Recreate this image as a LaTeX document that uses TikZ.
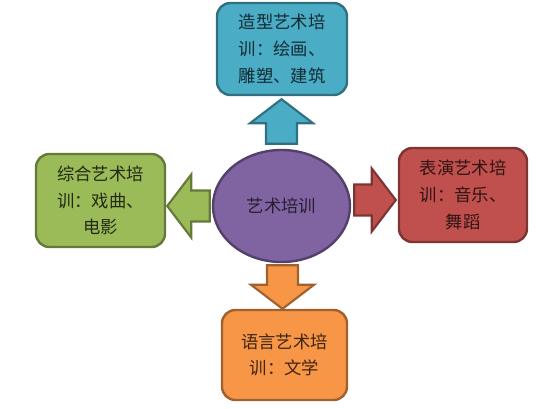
\documentclass[tikz,border=0pt]{standalone}
\usepackage{fontspec}
\setmainfont{Noto Sans CJK SC}
\usepackage{tikz}
\usetikzlibrary{positioning,calc,shapes.geometric}

\definecolor{artblue}{HTML}{4BACC6}
\definecolor{artgreen}{HTML}{9BBB59}
\definecolor{artred}{HTML}{C0504D}
\definecolor{artorange}{HTML}{F79646}
\definecolor{artpurple}{HTML}{8064A2}

\tikzset{
  branch/.style={rounded corners=10pt, line width=1.8pt, align=center,
    font=\fontsize{13}{20}\selectfont, inner sep=0pt},
  bluebox/.style={branch, fill=artblue, draw=artblue!65!black, text=artblue!25!black},
  greenbox/.style={branch, fill=artgreen, draw=artgreen!65!black, text=artgreen!22!black},
  redbox/.style={branch, fill=artred, draw=artred!65!black, text=artred!25!black},
  orangebox/.style={branch, fill=artorange, draw=artorange!65!black, text=artorange!25!black},
  bigarrow/.style={line width=1.6pt, line join=miter},
}

\newcommand{\blockarrow}[3]{%
\coordinate (at) at (#2);
\coordinate (ap) at (#3);
\coordinate (ah) at ($(ap)!18pt!(at)$);
\draw[bigarrow,#1] ($(at)!11.6pt!90:(ap)$) -- ($(ah)!11.6pt!90:(ap)$)
  -- ($(ah)!23.6pt!90:(ap)$) -- (ap) -- ($(ah)!23.6pt!-90:(ap)$)
  -- ($(ah)!11.6pt!-90:(ap)$) -- ($(at)!11.6pt!-90:(ap)$) -- cycle;}

\begin{document}
\begin{tikzpicture}[x=.75pt, y=-.75pt]
\useasboundingbox (0,0) rectangle (541,408);

\node[ellipse, fill=artpurple, draw=artpurple!65!black, line width=1.8pt,
  minimum width=102.75pt, minimum height=84pt, inner sep=0pt,
  text=artpurple!30!black, font=\fontsize{13}{20}\selectfont] (hub) at (281.5,206) {艺术培训};

\node[bluebox, minimum width=97.5pt, minimum height=69pt] (build) at (282,49)
  {造型艺术培\\训：绘画、\\雕塑、建筑};
\node[greenbox, minimum width=96.75pt, minimum height=69.75pt] (drama) at (100.5,200.5)
  {综合艺术培\\训：戏曲、\\电影};
\node[redbox, minimum width=96pt, minimum height=70.5pt] (perform) at (463,195)
  {表演艺术培\\训：音乐、\\舞蹈};
\node[orangebox, minimum width=93.75pt, minimum height=67.5pt] (lang) at (284.5,355)
  {语言艺术培\\训：文学};

\blockarrow{fill=artblue, draw=artblue!65!black}{$(hub.north)+(0,-5)$}{$(hub.north |- build.south)+(0,3)$}
\blockarrow{fill=artgreen, draw=artgreen!65!black}{$(hub.west)+(-2,0)$}{$(drama.east |- hub.west)+(1,0)$}
\blockarrow{fill=artred, draw=artred!65!black}{$(hub.east)+(3,-6)$}{$(perform.west |- hub.east)+(-2,-6)$}
\blockarrow{fill=artorange, draw=artorange!65!black}{$(hub.south)+(1,2)$}{$(hub.south |- lang.north)+(1,0)$}

\end{tikzpicture}
\end{document}
